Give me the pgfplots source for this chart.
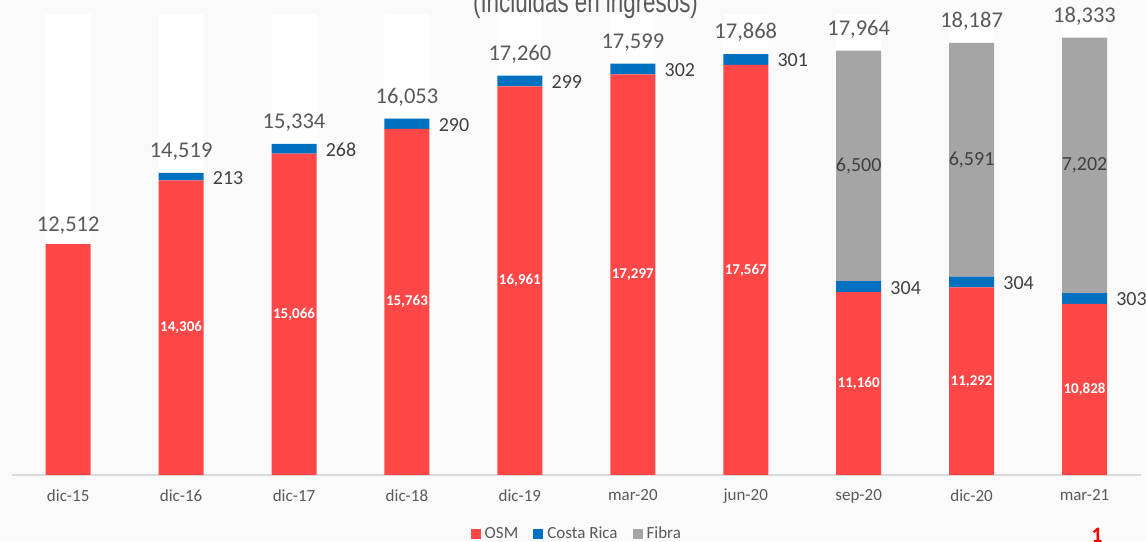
\documentclass[border=0pt]{standalone}
\usepackage{pgfplots}
\pgfplotsset{compat=1.18}
\usepackage{pgfplotstable}
\usepackage{fontspec}
\setmainfont{Carlito}
\newfontfamily\titlefont{Liberation Sans}
\definecolor{osm}{HTML}{FF4747}
\definecolor{cr}{HTML}{0070C0}
\definecolor{fib}{HTML}{A5A5A5}
\definecolor{bg}{HTML}{FAFAFA}
\definecolor{txt}{HTML}{595959}
\definecolor{dtxt}{HTML}{404040}
\definecolor{axl}{HTML}{D9D9D9}

\pgfplotstableread{
x osm cr fibra total white ltot losm lcr lfib
0 12512 0 0 12512 19000 12,512 12,512 0 0
1 14306 213 0 14519 19000 14,519 14,306 213 0
2 15066 268 0 15334 19000 15,334 15,066 268 0
3 15763 290 0 16053 19000 16,053 15,763 290 0
4 16961 299 0 17260 19000 17,260 16,961 299 0
5 17297 302 0 17599 19000 17,599 17,297 302 0
6 17567 301 0 17868 19000 17,868 17,567 301 0
7 11160 304 6500 17964 19000 17,964 11,160 304 6,500
8 11292 304 6591 18187 19000 18,187 11,292 304 6,591
9 10828 303 7202 18333 19000 18,333 10,828 303 7,202
}\data

\pgfplotsset{base/.style={
  scale only axis, width=1129.3pt, height=461pt,
  xmin=-0.5, xmax=9.5, ymin=6000, ymax=19000,
  at={(11.7pt,66pt)}, anchor=south west,
}}

\begin{document}
\begin{tikzpicture}
\useasboundingbox (0pt,0pt) rectangle (1146pt,541pt);
\fill[bg] (0pt,0pt) rectangle (1146pt,541pt);
\clip (0pt,0pt) rectangle (1146pt,541pt);

% white background columns
\begin{axis}[base, axis lines=none, ybar, bar width=45pt]
\addplot[fill=white, draw=none] table[x=x, y=white]{\data};
\end{axis}

% stacked bars
\begin{axis}[base,
  ybar stacked, bar width=45pt,
  axis x line*=bottom, axis y line=none,
  x axis line style={draw=axl, line width=1.5pt, -},
  xtick=data, ytick=\empty,
  xticklabels={dic-15,dic-16,dic-17,dic-18,dic-19,mar-20,jun-20,sep-20,dic-20,mar-21},
  major tick length=0pt,
  xticklabel style={font=\fontsize{17}{17}\selectfont, text=txt, anchor=north, inner sep=0pt, yshift=-14pt},
  legend style={at={(0.4063,-0.127)}, anchor=west, draw=none, fill=none,
    legend columns=3, font=\fontsize{17}{17}\selectfont, text=txt,
    nodes={inner sep=1pt},
    /tikz/every even column/.append style={column sep=14pt},
    legend cell align=left, inner sep=0pt},
  legend image code/.code={\path (0pt,0pt) -- (13pt,0pt); \fill[#1] (0pt,-5pt) rectangle (10pt,5pt);},
]
\addplot[fill=osm, draw=none] table[x=x, y=osm]{\data};
\addplot[fill=cr, draw=none] table[x=x, y=cr]{\data};
\addplot[fill=fib, draw=none] table[x=x, y=fibra]{\data};
\legend{OSM, Costa Rica, Fibra}
\end{axis}

% labels
\begin{axis}[base, axis lines=none, clip=false, ticks=none]
\addplot[draw=none, mark=none, nodes near coords, point meta=explicit symbolic,
  restrict x to domain=0:0,
  nodes near coords style={anchor=center, yshift=18pt, font=\fontsize{22.5}{22.5}\selectfont, text=txt}]
  table[x=x, y=total, meta=ltot]{\data};
\addplot[draw=none, mark=none, nodes near coords, point meta=explicit symbolic,
  restrict x to domain=1:9,
  nodes near coords style={anchor=center, yshift=21.5pt, font=\fontsize{22.5}{22.5}\selectfont, text=txt}]
  table[x=x, y=total, meta=ltot]{\data};
\addplot[draw=none, mark=none, nodes near coords, point meta=explicit symbolic,
  restrict x to domain=1:9,
  nodes near coords style={anchor=center, xshift=47pt, yshift=-1pt, font=\fontsize{20}{20}\selectfont, text=dtxt}]
  table[x=x, y expr=\thisrow{osm}+\thisrow{cr}/2, meta=lcr]{\data};
\addplot[draw=none, mark=none, nodes near coords, point meta=explicit symbolic,
  restrict x to domain=7:9,
  nodes near coords style={anchor=center, font=\fontsize{20}{20}\selectfont, text=dtxt}]
  table[x=x, y expr=\thisrow{osm}+\thisrow{cr}+\thisrow{fibra}/2, meta=lfib]{\data};
\addplot[draw=none, mark=none, nodes near coords, point meta=explicit symbolic,
  restrict x to domain=1:9,
  nodes near coords style={anchor=center, font=\bfseries\fontsize{15}{15}\selectfont, text=white}]
  table[x=x, y expr=(6000+\thisrow{osm})/2, meta=losm]{\data};
\end{axis}

% cut-off title and page number
\node[anchor=base, text=txt, inner sep=0pt] at (585.5pt,528.3pt) {\scalebox{0.745}[1]{\titlefont\fontsize{30}{30}\selectfont (Incluidas en ingresos)}};
\node[anchor=base, text=red, font=\bfseries\fontsize{22}{22}\selectfont, inner sep=0pt] at (1097pt,-1pt) {1};
\end{tikzpicture}
\end{document}
